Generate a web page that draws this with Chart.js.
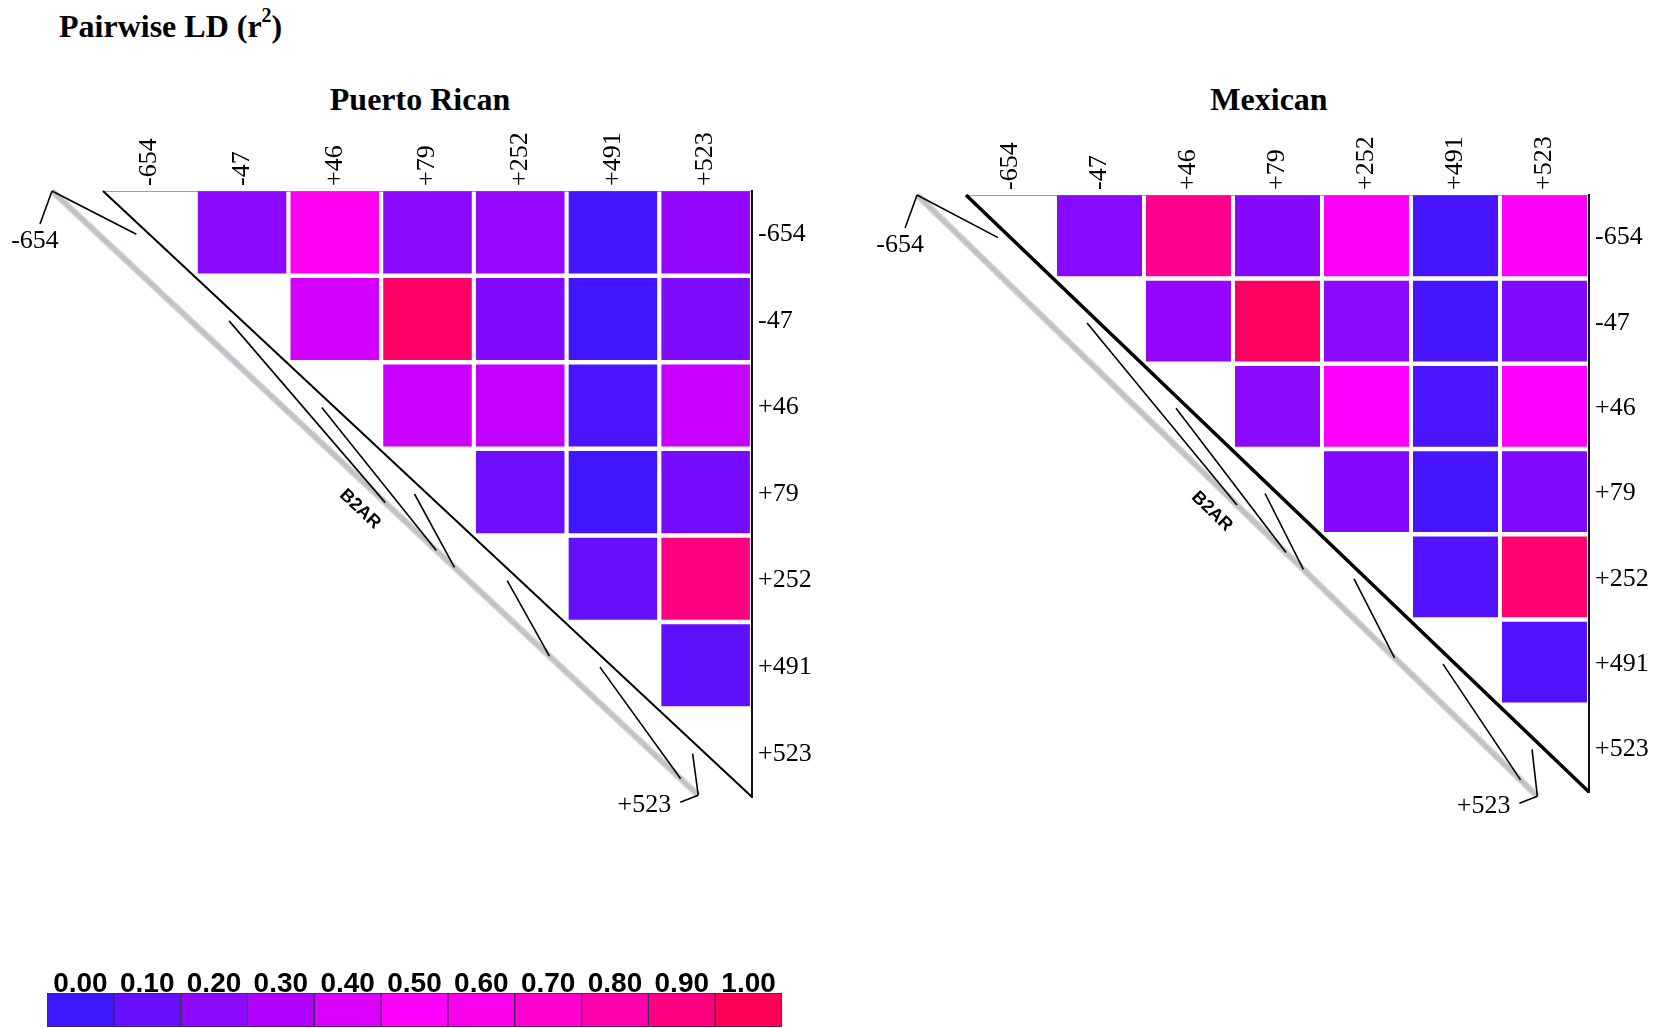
<!DOCTYPE html>
<html>
<head>
<meta charset="utf-8">
<script src="https://cdn.jsdelivr.net/npm/chart.js@4.4.1/dist/chart.umd.min.js"></script>
<style>
  html, body { margin: 0; padding: 0; background: #fff; }
  body { width: 1661px; height: 1028px; position: relative; overflow: hidden;
         font-family: 'Liberation Serif', 'Times New Roman', serif; color: #000; }
  .ttl { position: absolute; font-weight: bold; font-size: 32px; line-height: 32px; white-space: nowrap; }
  .ctr { width: 400px; text-align: center; }
  .ttl sup { font-size: 20px; line-height: 0; position: relative; top: -3px; }
  canvas { position: absolute; }
</style>
</head>
<body>
<div class="ttl" style="left:59px; top:10px;">Pairwise LD (r<sup>2</sup>)</div>
<div class="ttl ctr" style="left:220px; top:83px;">Puerto Rican</div>
<div class="ttl ctr" style="left:1069px; top:83px;">Mexican</div>

<canvas id="pr" width="820" height="700" style="left:0px; top:120px;"></canvas>
<canvas id="mx" width="801" height="700" style="left:860px; top:120px;"></canvas>
<canvas id="key" width="750" height="78" style="left:40px; top:950px;"></canvas>

<script>
// SNPs along B2AR (positions relative to the start codon)
const snps   = ['-654', '-47', '+46', '+79', '+252', '+491', '+523'];
const snpPos = [-654, -47, 46, 79, 252, 491, 523];
const geneName = 'B2AR';

// Pairwise r² (upper triangle, row i holds pairs with SNPs i+1 .. n-1)
const puertoRicanR2 = [
  [0.20, 0.58, 0.20, 0.23, 0.02, 0.22],
  [0.38, 0.96, 0.17, 0.01, 0.16],
  [0.36, 0.34, 0.03, 0.35],
  [0.12, 0.01, 0.14],
  [0.10, 0.90],
  [0.08]
];
const mexicanR2 = [
  [0.19, 0.87, 0.18, 0.55, 0.02, 0.54],
  [0.22, 0.97, 0.20, 0.02, 0.17],
  [0.20, 0.50, 0.03, 0.50],
  [0.18, 0.02, 0.17],
  [0.05, 0.94],
  [0.05]
];

// Colour key
const keyValues = [0.0, 0.1, 0.2, 0.3, 0.4, 0.5, 0.6, 0.7, 0.8, 0.9, 1.0];
const keyLabels = ['0.00', '0.10', '0.20', '0.30', '0.40', '0.50', '0.60', '0.70', '0.80', '0.90', '1.00'];

// blue -> magenta -> red ramp, one stop per 0.1 of r²
const ramp = [
  [62, 22, 255], [104, 14, 255], [140, 8, 255], [178, 0, 255], [220, 0, 255], [255, 0, 255],
  [255, 0, 238], [255, 0, 208], [255, 0, 172], [255, 0, 130], [255, 0, 84]
];
function r2Color(v) {
  const p = Math.max(0, Math.min(1, v)) * 10;
  const i = Math.min(9, Math.floor(p));
  const f = p - i;
  const a = ramp[i], b = ramp[i + 1];
  const c = a.map((ch, k) => Math.round(ch + (b[k] - ch) * f));
  return `rgb(${c[0]},${c[1]},${c[2]})`;
}

Chart.defaults.font.family = "'Liberation Serif', 'Times New Roman', serif";
Chart.defaults.color = '#000';

// Diagonal, gene track with SNP connectors and track labels
const ldDecor = {
  id: 'ldDecor',
  afterDatasetsDraw(chart, args, opts) {
    const { ctx, scales: { x, y } } = chart;
    const n = snps.length;
    const P = (u, v) => [x.getPixelForValue(u), y.getPixelForValue(v)];
    const lo = snpPos[0], hi = snpPos[n - 1];
    const a = P(-0.55, 0), b = P(n - 0.58, opts.trackEnd);
    const onTrack = t => [a[0] + (b[0] - a[0]) * t, a[1] + (b[1] - a[1]) * t];
    const seg = (p, q) => { ctx.beginPath(); ctx.moveTo(p[0], p[1]); ctx.lineTo(q[0], q[1]); ctx.stroke(); };

    ctx.save();
    ctx.lineCap = 'butt';
    // gene track
    ctx.strokeStyle = '#dcd4e2'; ctx.lineWidth = 7; seg(a, b);
    ctx.strokeStyle = '#c2c2c2'; ctx.lineWidth = 4; seg(a, b);

    // diagonal edge of the triangle
    ctx.strokeStyle = '#000'; ctx.lineWidth = opts.diagWidth;
    seg(P(0, 0), P(n, n));

    // SNP connectors: physical position on the track -> marker column
    ctx.lineWidth = 1.6;
    snpPos.forEach((pos, k) => seg(onTrack((pos - lo) / (hi - lo)), P(k + 0.36, k + 0.5)));

    // end ticks and end labels
    seg(a, [a[0] - 12, a[1] + 33]);
    seg(b, [b[0] - 18, b[1] + 7]);
    ctx.fillStyle = '#000';
    ctx.font = "26px 'Liberation Serif'";
    ctx.textBaseline = 'middle';
    ctx.textAlign = 'center';
    ctx.fillText(snps[0], a[0] - 17, a[1] + 50);
    ctx.textAlign = 'right';
    ctx.fillText(snps[n - 1], b[0] - 27, b[1] + 10);

    // gene name alongside the track
    const ang = Math.atan2(b[1] - a[1], b[0] - a[0]);
    const m = onTrack(0.5);
    ctx.translate(m[0] - 22 * Math.sin(ang), m[1] + 22 * Math.cos(ang));
    ctx.rotate(ang);
    ctx.font = "bold 18px 'Liberation Sans', Arial, sans-serif";
    ctx.textAlign = 'center';
    ctx.fillText(geneName, 0, 0);
    ctx.restore();
  }
};

function ldPanel(id, r2, lay) {
  const n = snps.length;
  const datasets = r2.map((row, i) => ({
    data: row.map((v, k) => ({ x: i + k + 1 + 0.5, y: [i + 0.004, i + 0.952] })),
    backgroundColor: row.map(v => r2Color(v)),
    borderWidth: 0,
    barPercentage: 0.955,
    categoryPercentage: 1,
    grouped: false
  }));
  const tickFont = { size: 26, family: "'Liberation Serif', 'Times New Roman', serif" };
  return new Chart(document.getElementById(id), {
    type: 'bar',
    data: { datasets },
    plugins: [ldDecor],
    options: {
      responsive: false,
      animation: false,
      devicePixelRatio: 1,
      layout: { padding: { left: lay.left, top: 0, right: 0, bottom: lay.bottom } },
      plugins: {
        legend: { display: false }, tooltip: { enabled: false },
        ldDecor: { diagWidth: lay.diag, trackEnd: lay.trackEnd }
      },
      scales: {
        x: {
          type: 'linear', position: 'top', min: 0, max: n, offset: false,
          grid: { display: false, drawTicks: false },
          border: { display: true, color: '#8fa3b4', width: 1 },
          afterBuildTicks: s => { s.ticks = snps.map((_, j) => ({ value: j + 0.5 })); },
          afterFit: s => { s.height = lay.top; },
          ticks: {
            autoSkip: false, minRotation: 90, maxRotation: 90, padding: 5,
            font: { ...tickFont, lineHeight: 0 }, color: '#000',
            callback: (v, i) => snps[i]
          }
        },
        y: {
          type: 'linear', position: 'right', min: 0, max: n, reverse: true,
          grid: { display: false, drawTicks: false },
          border: { display: true, color: '#111', width: 2 },
          afterBuildTicks: s => { s.ticks = snps.map((_, i) => ({ value: i + 0.5 })); },
          afterFit: s => { s.width = lay.right; },
          ticks: {
            autoSkip: false, padding: lay.pad, font: tickFont, color: '#000',
            callback: (v, i) => snps[i]
          }
        }
      }
    }
  });
}

ldPanel('pr', puertoRicanR2, { left: 103, top: 71, right: 68, bottom: 23, pad: 6, diag: 2, trackEnd: 6.98 });
ldPanel('mx', mexicanR2,     { left: 106, top: 75, right: 72, bottom: 28, pad: 6, diag: 3.5, trackEnd: 7.05 });

// colour key
new Chart(document.getElementById('key'), {
  type: 'bar',
  data: {
    labels: keyLabels,
    datasets: [{
      data: keyValues.map(() => 1),
      backgroundColor: keyValues.map(r2Color),
      borderColor: '#3a2a4a',
      borderWidth: 1,
      borderSkipped: false,
      barPercentage: 1,
      categoryPercentage: 1
    }]
  },
  options: {
    responsive: false,
    animation: false,
    devicePixelRatio: 1,
    layout: { padding: { left: 7, right: 8, top: 0, bottom: 1 } },
    plugins: { legend: { display: false }, tooltip: { enabled: false } },
    scales: {
      x: {
        position: 'top',
        grid: { display: false, drawTicks: false },
        border: { display: false },
        afterFit: s => { s.height = 43; },
        ticks: {
          autoSkip: false, maxRotation: 0, padding: -8, color: '#000',
          font: { size: 28, weight: 'bold', family: "'Liberation Sans', Arial, sans-serif" }
        }
      },
      y: { display: false, min: 0, max: 1 }
    }
  }
});
</script>
</body>
</html>
